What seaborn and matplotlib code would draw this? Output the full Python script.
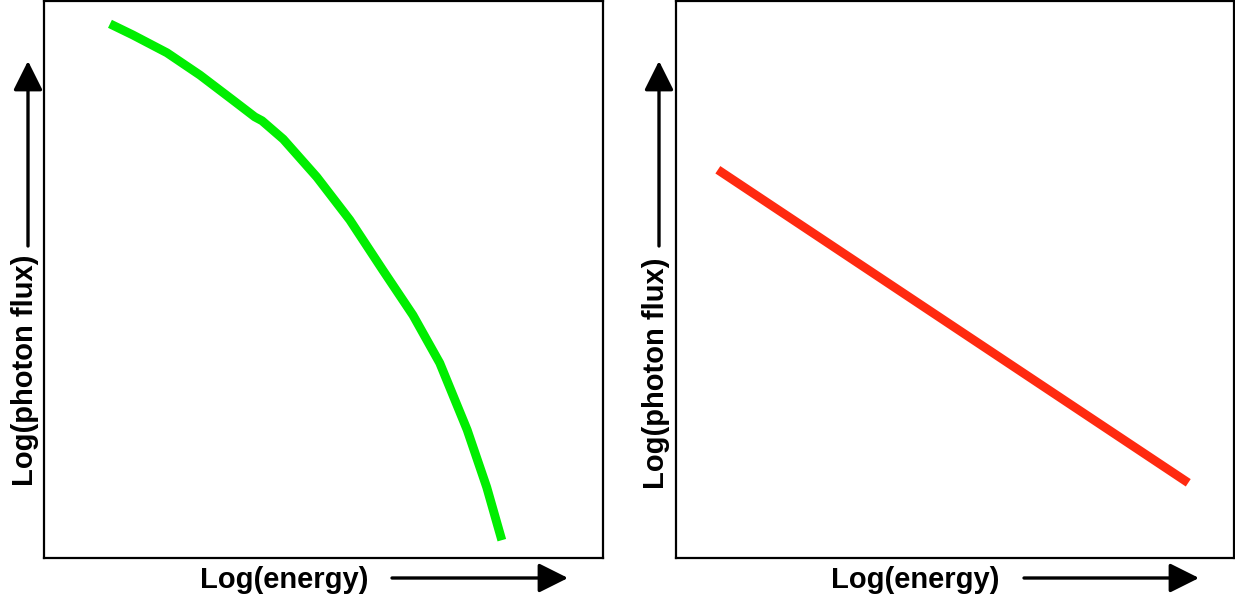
import matplotlib
matplotlib.use("Agg")
import matplotlib.pyplot as plt
from matplotlib.patches import FancyArrowPatch
import seaborn as sns
import pandas as pd

sns.set_style("white")
plt.rcParams['font.family'] = ['Liberation Sans', 'DejaVu Sans']
plt.rcParams['text.color'] = 'black'

# Curved spectrum (left panel), normalised axis units
curve_x = [0.118, 0.159, 0.220, 0.279, 0.338, 0.377, 0.390, 0.428, 0.488,
           0.547, 0.606, 0.660, 0.708, 0.757, 0.792, 0.819]
curve_y = [0.959, 0.939, 0.907, 0.867, 0.822, 0.792, 0.785, 0.752, 0.684,
           0.607, 0.517, 0.436, 0.350, 0.230, 0.127, 0.032]
# Power law (right panel)
line_x = [0.075, 0.918]
line_y = [0.697, 0.135]

x_label = "Log(energy)"
y_label = "Log(photon flux)"

W, H = 1235, 600
fig = plt.figure(figsize=(W / 100, H / 100), dpi=100)

def px(x, y):
    return x / W, 1 - y / H

ax1 = fig.add_axes([44 / W, 1 - 558 / H, 559 / W, 557 / H])
ax2 = fig.add_axes([676 / W, 1 - 558 / H, 558 / W, 557 / H])

df1 = pd.DataFrame({"x": curve_x, "y": curve_y})
df2 = pd.DataFrame({"x": line_x, "y": line_y})
sns.lineplot(data=df1, x="x", y="y", ax=ax1, color="#00ee00", lw=6.4, sort=False,
             solid_capstyle="butt", solid_joinstyle="round")
sns.lineplot(data=df2, x="x", y="y", ax=ax2, color="#ff2a10", lw=6.4, sort=False,
             solid_capstyle="butt")

for ax in (ax1, ax2):
    ax.set_xlim(0, 1)
    ax.set_ylim(0, 1)
    ax.set_xticks([])
    ax.set_yticks([])
    ax.set_xlabel("")
    ax.set_ylabel("")
    for s in ax.spines.values():
        s.set_visible(True)
        s.set_color("black")
        s.set_linewidth(1.6)

fs = 21

def arrow(p0, p1):
    fig.patches.append(FancyArrowPatch(px(*p0), px(*p1), transform=fig.transFigure,
                       arrowstyle="-|>,head_length=1.8,head_width=0.9",
                       mutation_scale=10, color="black", lw=2.4,
                       shrinkA=0, shrinkB=0))

# Left panel labels
fig.text(*px(284, 580), x_label, ha="center", va="center", fontsize=fs, fontweight="bold")
arrow((392, 578), (568, 578))
fig.text(*px(25, 370), y_label, ha="center", va="center", rotation=90, fontsize=fs, fontweight="bold")
arrow((28, 246), (28, 61))

# Right panel labels
fig.text(*px(915, 580), x_label, ha="center", va="center", fontsize=fs, fontweight="bold")
arrow((1024, 578), (1199, 578))
fig.text(*px(656, 373), y_label, ha="center", va="center", rotation=90, fontsize=fs, fontweight="bold")
arrow((659, 246), (659, 61))

fig.savefig("out.png", dpi=100)
